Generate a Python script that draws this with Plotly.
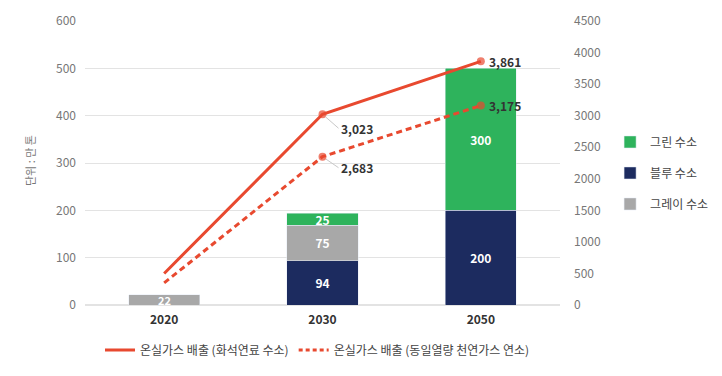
import plotly.graph_objects as go

years = ["2020", "2030", "2050"]
blue_h2 = [None, 94, 200]
gray_h2 = [22, 75, None]
green_h2 = [None, 25, 300]
# line positions as drawn in the reference (right axis)
emis_fossil = [500, 3023, 3861]
emis_lng = [350, 2350, 3160]
emis_labels_fossil = ["", "3,023", "3,861"]
emis_labels_lng = ["", "2,683", "3,175"]
y_title = "단위 : 만 톤"

FONT = "Noto Sans CJK KR"
RED = "#e8492f"
GREEN = "#2eb35c"
NAVY = "#1c2b5f"
GRAY = "#a8a8a8"

def txt(v):
    return ["" if x is None else str(x) for x in v]

# the thin 2020 bar gets its label as an annotation (too thin for inside text)
gray_text = txt(gray_h2)
gray_text[0] = ""

fig = go.Figure()
bar_common = dict(width=0.45, textposition="inside", insidetextanchor="middle", textangle=0,
                  textfont=dict(color="white", size=12, family=FONT, weight=600),
                  legend="legend", hoverinfo="skip")
fig.add_trace(go.Bar(x=years, y=blue_h2, name="블루 수소", marker_color=NAVY,
                     text=txt(blue_h2), legendrank=2, legendgroup="b", **bar_common))
fig.add_trace(go.Bar(x=years, y=gray_h2, name="그레이 수소", marker_color=GRAY,
                     text=gray_text, legendrank=3, legendgroup="c", **bar_common))
fig.add_trace(go.Bar(x=years, y=green_h2, name="그린 수소", marker_color=GREEN,
                     text=txt(green_h2), legendrank=1, legendgroup="a", **bar_common))

mk = dict(size=[0, 8, 8], color=RED, line=dict(width=0))
fig.add_trace(go.Scatter(x=years, y=emis_fossil, yaxis="y2", mode="lines+markers",
                         line=dict(color=RED, width=3), marker=mk, showlegend=False,
                         hoverinfo="skip"))
fig.add_trace(go.Scatter(x=years, y=emis_lng, yaxis="y2", mode="lines+markers",
                         line=dict(color=RED, width=3, dash="6px,4px"), marker=mk,
                         showlegend=False, hoverinfo="skip"))
# legend-only entries (line symbols without markers)
fig.add_trace(go.Scatter(x=[None], y=[None], yaxis="y2", mode="lines",
                         name="온실가스 배출 (화석연료 수소)",
                         line=dict(color=RED, width=3), legend="legend2"))
fig.add_trace(go.Scatter(x=[None], y=[None], yaxis="y2", mode="lines",
                         name="온실가스 배출 (동일열량 천연가스 연소)",
                         line=dict(color=RED, width=3, dash="4px,3px"), legend="legend2"))

ann_font = dict(family=FONT, size=12, color="#333", weight=600)
annotations = []
# 2030 labels with leader lines (category index 1)
for val, lab, ay in [(emis_fossil[1], emis_labels_fossil[1], 14),
                     (emis_lng[1], emis_labels_lng[1], 11)]:
    annotations.append(dict(x=1, xref="x", y=val, yref="y2", text=lab, showarrow=True,
                            arrowhead=0, arrowwidth=1, arrowcolor="#c8c8c8",
                            ax=16, ay=ay, xanchor="left", yanchor="middle",
                            standoff=4, font=ann_font))
# 2050 labels to the right (category index 2)
for val, lab in [(emis_fossil[2], emis_labels_fossil[2]), (emis_lng[2], emis_labels_lng[2])]:
    annotations.append(dict(x=2, xref="x", y=val, yref="y2", text=lab, showarrow=False,
                            xanchor="left", yanchor="middle", xshift=6, font=ann_font))
# 2020 bar value
annotations.append(dict(x=0, xref="x", y=gray_h2[0] / 2, yref="y", text=str(gray_h2[0]),
                        showarrow=False, xanchor="center", yanchor="middle",
                        font=dict(family=FONT, size=11, color="white", weight=600)))
# y axis title
annotations.append(dict(x=-0.116, xref="paper", y=0.51, yref="paper", text=y_title,
                        textangle=-90, showarrow=False, xanchor="center", yanchor="middle",
                        font=dict(family=FONT, size=11, color="#777")))

fig.update_layout(
    width=722, height=376,
    margin=dict(l=85, r=162, t=21, b=71, autoexpand=False),
    paper_bgcolor="white", plot_bgcolor="white",
    barmode="stack",
    font=dict(family=FONT, size=12, color="#666"),
    uniformtext=dict(minsize=12, mode="show"),
    xaxis=dict(type="category", range=[-0.5, 2.5], showgrid=False, showline=False, ticks="",
               automargin=False, ticklabelstandoff=6,
               tickfont=dict(size=12, color="#333", weight=600)),
    yaxis=dict(range=[0, 600], dtick=100, showgrid=True, gridcolor="#e3e3e3",
               gridwidth=1, zeroline=True, zerolinecolor="#e3e3e3", showline=False,
               automargin=False,
               tickfont=dict(size=12, color="#777"), ticklabelstandoff=8),
    yaxis2=dict(range=[0, 4500], dtick=500, overlaying="y", side="right",
                showgrid=False, zeroline=False, showline=False, automargin=False,
                tickfont=dict(size=12, color="#777"), ticklabelstandoff=13),
    legend=dict(xref="container", yref="container", x=0.845, xanchor="left",
                y=0.54, yanchor="middle",
                font=dict(size=12, color="#444"), tracegroupgap=12,
                bgcolor="rgba(0,0,0,0)"),
    legend2=dict(xref="container", yref="container", orientation="h", x=0.1385,
                 xanchor="left", y=0.069, yanchor="middle",
                 font=dict(size=12, color="#444"), bgcolor="rgba(0,0,0,0)"),
    annotations=annotations,
    showlegend=True,
)

fig.write_html("out.html", config={"displayModeBar": False},
               post_script="document.body.style.margin='0';")
